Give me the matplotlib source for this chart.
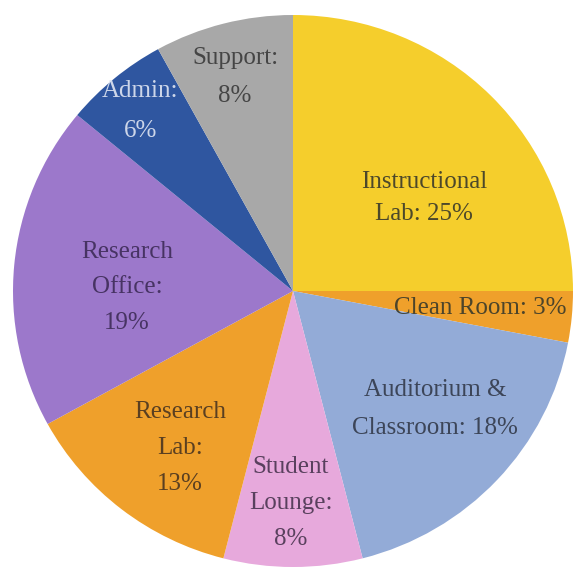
import matplotlib
matplotlib.use("Agg")
import matplotlib.pyplot as plt

categories = ["Instructional Lab", "Clean Room", "Auditorium & Classroom", "Student Lounge",
              "Research Lab", "Research Office", "Admin", "Support"]
values = [25, 3, 18, 8, 13, 19, 6, 8]
label_texts = ["Instructional\nLab: 25%", "Clean Room: 3%", "Auditorium &\nClassroom: 18%",
               "Student\nLounge:\n8%", "Research\nLab:\n13%", "Research\nOffice:\n19%",
               "Admin:\n6%", "Support:\n8%"]

colors = ["#F5CE2C", "#EFA02B", "#93ABD7", "#E7A9DC", "#EFA02B", "#9C78CB", "#2F56A0", "#A8A8A8"]
label_pos = [(0.468, 0.337), (0.668, -0.062), (0.507, -0.428), (-0.007, -0.768),
             (-0.404, -0.569), (-0.593, 0.014), (-0.546, 0.652), (-0.207, 0.775)]
label_colors = ["#3a3a2a", "#3a3a2a", "#333a4a", "#4a3550", "#4a3520", "#3e2c58", "#dfe5f2", "#3a3a3a"]
label_spacing = [1.6, 1.2, 1.95, 1.8, 1.8, 1.8, 2.05, 1.9]

fig = plt.figure(figsize=(5.77, 5.70), dpi=100)
ax = fig.add_axes([13 / 577, 3 / 570, 560 / 577, 552 / 570])
ax.pie(values, colors=colors, startangle=90, counterclock=False,
       wedgeprops=dict(linewidth=0))
ax.set_aspect("auto")
ax.set_xlim(-1, 1)
ax.set_ylim(-1, 1)
ax.axis("off")

for txt, (x, y), c, ls in zip(label_texts, label_pos, label_colors, label_spacing):
    ax.text(x, y, txt, ha="center", va="center", fontsize=18, color=c,
            family=["Liberation Serif", "DejaVu Serif"], linespacing=ls, alpha=0.9)

fig.savefig("out.png", dpi=100)
